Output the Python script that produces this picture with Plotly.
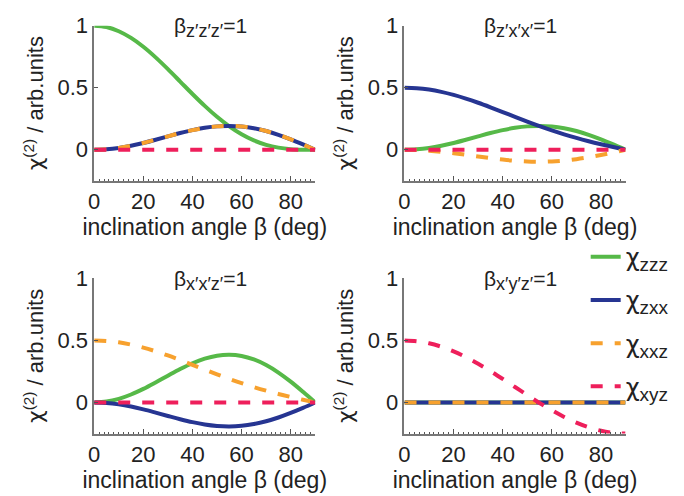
import plotly.graph_objects as go

beta = [0, 5, 10, 15, 20, 25, 30, 35, 40, 45, 50, 55, 60, 65, 70, 75, 80, 85, 90]

# panel 1: beta_z'z'z' = 1
p1_zzz = [1.0, 0.9886, 0.9551, 0.9012, 0.8298, 0.7444, 0.6495, 0.5497, 0.4495, 0.3536,
          0.2656, 0.1887, 0.125, 0.0755, 0.0400, 0.0173, 0.0052, 0.0007, 0.0]
p1_zxx = [0.0, 0.0038, 0.0149, 0.0324, 0.0550, 0.0810, 0.1083, 0.1348, 0.1583, 0.1768,
          0.1886, 0.1925, 0.1875, 0.1736, 0.1510, 0.1208, 0.0842, 0.0433, 0.0]
p1_xxz = [0.0, 0.0038, 0.0149, 0.0324, 0.0550, 0.0810, 0.1083, 0.1348, 0.1583, 0.1768,
          0.1886, 0.1925, 0.1875, 0.1736, 0.1510, 0.1208, 0.0842, 0.0433, 0.0]
p1_xyz = [0.0] * 19

# panel 2: beta_z'x'x' = 1
p2_zzz = [0.0, 0.0038, 0.0149, 0.0324, 0.0550, 0.0810, 0.1083, 0.1348, 0.1583, 0.1768,
          0.1886, 0.1925, 0.1875, 0.1736, 0.1510, 0.1208, 0.0842, 0.0433, 0.0]
p2_zxx = [0.5, 0.4962, 0.4850, 0.4668, 0.4424, 0.4127, 0.3789, 0.3422, 0.3039, 0.2652,
          0.2271, 0.1906, 0.1563, 0.1245, 0.0955, 0.0690, 0.0447, 0.0220, 0.0]
p2_xxz = [0.0, -0.0019, -0.0074, -0.0162, -0.0275, -0.0405, -0.0541, -0.0674, -0.0791, -0.0884,
          -0.0943, -0.0962, -0.0938, -0.0868, -0.0755, -0.0604, -0.0421, -0.0216, 0.0]
p2_xyz = [0.0] * 19

# panel 3: beta_x'x'z' = 1
p3_zzz = [0.0, 0.0076, 0.0297, 0.0647, 0.1099, 0.1619, 0.2165, 0.2695, 0.3165, 0.3535,
          0.3772, 0.3849, 0.375, 0.3471, 0.3020, 0.2415, 0.1684, 0.0865, 0.0]
p3_zxx = [0.0, -0.0038, -0.0149, -0.0324, -0.0550, -0.0810, -0.1083, -0.1348, -0.1583, -0.1768,
          -0.1886, -0.1925, -0.1875, -0.1736, -0.1510, -0.1208, -0.0842, -0.0433, 0.0]
p3_xxz = [0.5, 0.4962, 0.4850, 0.4668, 0.4424, 0.4127, 0.3789, 0.3422, 0.3039, 0.2652,
          0.2271, 0.1906, 0.1563, 0.1245, 0.0955, 0.0690, 0.0447, 0.0220, 0.0]
p3_xyz = [0.0] * 19

# panel 4: beta_x'y'z' = 1
p4_zzz = [0.0] * 19
p4_zxx = [0.0] * 19
p4_xxz = [0.0] * 19
p4_xyz = [0.5, 0.4943, 0.4774, 0.4498, 0.4123, 0.3661, 0.3125, 0.2533, 0.1901, 0.125,
          0.0599, -0.0033, -0.0625, -0.1161, -0.1623, -0.1998, -0.2274, -0.2443, -0.25]


def sub(s, size):
    return '<sub><span style="font-size:%dpx">%s</span></sub>' % (size, s)


CHI = '<span style="font-family:DejaVu Sans">χ</span>'

panel_titles = ["β" + sub("z′z′z′", 18) + "=1", "β" + sub("z′x′x′", 18) + "=1",
                "β" + sub("x′x′z′", 18) + "=1", "β" + sub("x′y′z′", 18) + "=1"]
series_names = [CHI + sub("zzz", 19), CHI + sub("zxx", 19),
                CHI + sub("xxz", 19), CHI + sub("xyz", 19)]
x_ticks = [0, 20, 40, 60, 80]
y_ticks = [0, 0.5, 1]
y_ticklabels = ["0", "0.5", "1"]

colors = ["#56b948", "#263592", "#f7a12e", "#ee1f5b"]
dashes = ["solid", "solid", "dash", "dash"]

panels = [
    [p1_zzz, p1_zxx, p1_xxz, p1_xyz],
    [p2_zzz, p2_zxx, p2_xxz, p2_xyz],
    [p3_zzz, p3_zxx, p3_xxz, p3_xyz],
    [p4_zzz, p4_zxx, p4_xxz, p4_xyz],
]

W, H = 684, 496
xdoms = [[89 / W, 312 / W], [402 / W, 625 / W]]
ydoms = [[1 - 173 / H, 1 - 14 / H], [1 - 432 / H, 1 - 273 / H]]

fig = go.Figure()
FONT = "Liberation Sans, Arial, sans-serif"
TXT = "#222222"

for i, series in enumerate(panels):
    ax = "" if i == 0 else str(i + 1)
    for k, ys in enumerate(series):
        fig.add_trace(go.Scatter(
            x=beta, y=ys, mode="lines", line_shape="spline",
            line=dict(color=colors[k], width=4, dash=dashes[k]),
            name=series_names[k], legendgroup=str(k), showlegend=(i == 3),
            xaxis="x" + ax, yaxis="y" + ax,
        ))
    r, c = divmod(i, 2)
    fig.layout["xaxis" + ax] = dict(
        domain=xdoms[c], anchor="y" + ax, range=[0, 90],
        tickvals=x_ticks, ticks="inside", ticklen=5, tickcolor="#555",
        showline=True, linecolor="#777", linewidth=1.5, showgrid=False, zeroline=False,
        minor=dict(ticks="inside", dtick=2, ticklen=2, tickcolor="#555"),
        tickfont=dict(family=FONT, size=22, color=TXT),
        title=dict(text="inclination angle β (deg)", standoff=0,
                   font=dict(family=FONT, size=23, color=TXT)),
    )
    fig.layout["yaxis" + ax] = dict(
        domain=ydoms[r], anchor="x" + ax, range=[-0.25, 1],
        tickvals=y_ticks, ticktext=y_ticklabels, ticks="inside", ticklen=4, tickcolor="#555",
        showline=True, linecolor="#777", linewidth=1.5, showgrid=False, zeroline=False,
        tickfont=dict(family=FONT, size=22, color=TXT),
        title=dict(text=CHI + "<sup>(2)</sup> / arb.units", standoff=8,
                   font=dict(family=FONT, size=22, color=TXT)),
    )
    fig.add_annotation(
        text=panel_titles[i], xref="x" + ax + " domain", yref="y" + ax + " domain",
        x=0.525, y=0.985, xanchor="center", yanchor="middle", showarrow=False,
        font=dict(family=FONT, size=21, color=TXT),
    )

fig.update_layout(
    width=W, height=H, margin=dict(l=0, r=0, t=0, b=0),
    paper_bgcolor="white", plot_bgcolor="white",
    showlegend=True,
    legend=dict(x=0.855, y=0.54, xanchor="left", yanchor="top",
                bgcolor="rgba(0,0,0,0)", tracegroupgap=9,
                font=dict(family=FONT, size=24, color=TXT),
                itemwidth=30),
)

fig.write_html("out.html")
